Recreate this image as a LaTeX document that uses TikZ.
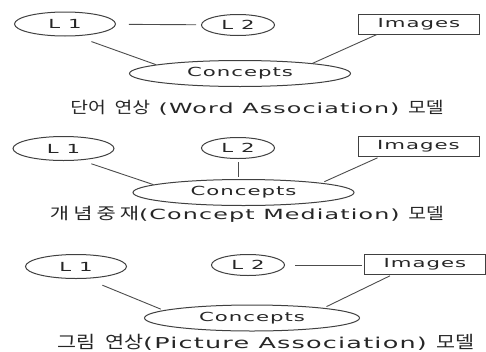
\documentclass[tikz,border=0pt]{standalone}
\usepackage{fontspec}
\setmainfont{DejaVu Sans}[FakeStretch=1.7,LetterSpace=8]
\newfontfamily\krfont{Noto Sans CJK KR}[Scale=1.15,FakeStretch=1.2]
\newfontfamily\krwfont{Noto Sans CJK KR}[Scale=1.15,FakeStretch=1.3,LetterSpace=25]
\newcommand{\kr}[1]{{\krfont #1}}
\newcommand{\krw}[1]{{\krwfont #1}}
\usetikzlibrary{shapes.geometric}
\tikzset{
  langone/.style={ellipse, draw=black!75, line width=1pt, inner sep=0pt,
    minimum width=101pt, minimum height=24pt, text=black!85,
    font=\fontsize{12.5}{14}\selectfont},
  langtwo/.style={langone, minimum width=73pt, minimum height=21pt},
  imgbox/.style={rectangle, draw=black!75, line width=1pt, inner sep=0pt,
    minimum width=121pt, minimum height=20pt, text=black!85,
    font=\fontsize{12.5}{14}\selectfont},
  concept/.style={langone, minimum width=221pt, minimum height=26pt},
  caption/.style={inner sep=0pt, text=black!85, font=\fontsize{14}{16}\selectfont},
  link/.style={draw=black!70, line width=0.9pt}
}

\begin{document}
\begin{tikzpicture}[x=1pt,y=-1pt]
			%%%%% START %%%%%
			\useasboundingbox (0,0) rectangle (486,351);
			
			% word association
			\node[langone] (l1a) at (65,24) {L 1};
			\node[langtwo] (l2a) at (238,25) {L 2};
			\node[imgbox] (imga) at (419,24) {Images};
			\node[concept] (cona) at (240,73.5) {Concepts};
			\node[caption] (capa) at (257,108) {\kr{단어} \kr{연상} (Word Association) \kr{모델}};
			\draw[link, shorten <=13pt, shorten >=5pt] (l1a) -- (l2a);
			\draw[link, shorten <=16pt] (l1a.-47) -- (cona.174);
			\draw[link] (imga.194) -- (cona.8);
			
			% concept mediation
			\node[langone] (l1b) at (63.5,148.5) {L 1};
			\node[langtwo] (l2b) at (238,148) {L 2};
			\node[imgbox] (imgb) at (418.5,146.5) {Images};
			\node[concept] (conb) at (243.5,192.5) {Concepts};
			\node[caption] (capb) at (247,214) {\krw{개념중재}(Concept Mediation) \kr{모델}};
			\draw[link, shorten <=11pt] (l1b.-34) -- (conb.175);
			\draw[link, shorten <=3pt, shorten >=2pt] (l2b.south) -- (l2b.south |- conb.north);
			\draw[link, shorten <=2pt, shorten >=3pt] (imgb.195) -- (conb.7);
			
			% picture association
			\node[langone] (l1c) at (76,266.5) {L 1};
			\node[langtwo] (l2c) at (248,265) {L 2};
			\node[imgbox] (imgc) at (425,264) {Images};
			\node[concept, minimum width=215pt] (conc) at (252,318) {Concepts};
			\node[caption, font=\fontsize{15}{17}\selectfont] (capc) at (266,342) {\kr{그림} \kr{연상}(Picture Association) \kr{모델}};
			\draw[link, shorten <=17pt, shorten >=3pt] (l1c.-49) -- (conc.175);
			\draw[link, shorten <=10pt, shorten >=2pt] (l2c) -- (l2c -| imgc.west);
			\draw[link, shorten <=3pt, shorten >=3pt] (imgc.198) -- (conc.8);
			
			%%%%% END %%%%%
\end{tikzpicture}
\end{document}
